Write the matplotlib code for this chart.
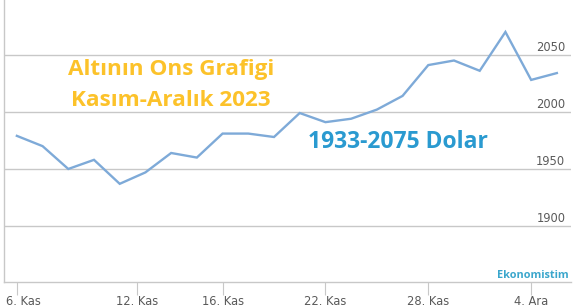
import matplotlib
matplotlib.use("Agg")
import matplotlib.pyplot as plt
from matplotlib.transforms import ScaledTranslation

# Data: trading days 6 Nov - 5 Dec 2023 (ordinal axis)
dates = ["6 Kas", "7 Kas", "8 Kas", "9 Kas", "10 Kas", "13 Kas", "14 Kas", "15 Kas",
         "16 Kas", "17 Kas", "20 Kas", "21 Kas", "22 Kas", "23 Kas", "24 Kas",
         "27 Kas", "28 Kas", "29 Kas", "30 Kas", "1 Ara", "4 Ara", "5 Ara"]
prices = [1979, 1970, 1950, 1958, 1937, 1947, 1964, 1960, 1981, 1981, 1978,
          1999, 1991, 1994, 2002, 2014, 2041, 2045, 2036, 2070, 2028, 2034]
tick_pos = [0, 4.667, 8, 12, 16, 20]
tick_labels = ["6. Kas", "12. Kas", "16. Kas", "22. Kas", "28. Kas", "4. Ara"]
y_grid = [1900, 1950, 2000, 2050]

W, H = 576, 308
fig = plt.figure(figsize=(W / 100, H / 100), dpi=100)
ax = fig.add_axes([4 / W, 1 - 282 / H, (571 - 4) / W, 282 / H])

x = list(range(len(prices)))
ax.plot(x, prices, color="#7EAAD8", lw=1.7, solid_joinstyle="miter", zorder=3)

ax.set_xlim(-0.5, 21.55)
ax.set_ylim(1851, 2098)

grid_c = "#C8C8C8"
for v in y_grid:
    ax.axhline(v, color=grid_c, lw=1.0, zorder=1)
    ax.text(0.99, v + 1, str(v), transform=ax.get_yaxis_transform(), ha="right", va="bottom",
            fontsize=8.3, color="#5A5A5A", family="DejaVu Sans")

for s in ["top", "right"]:
    ax.spines[s].set_visible(False)
ax.spines["left"].set_color(grid_c)
ax.spines["bottom"].set_color(grid_c)
ax.spines["left"].set_linewidth(1.0)
ax.spines["bottom"].set_linewidth(1.0)

ax.set_yticks([])
ax.set_xticks(tick_pos)
ax.set_xticklabels(tick_labels, fontsize=8.3, color="#5A5A5A")
ax.tick_params(axis="x", length=9, width=0.8, color=grid_c, pad=0.5)
first = ax.get_xticklabels()[0]
first.set_transform(first.get_transform() + ScaledTranslation(0.065, 0, fig.dpi_scale_trans))

ax.text(171 / W, 1 - 69 / H, "Altının Ons Grafigi", transform=fig.transFigure,
        ha="center", va="center", fontsize=16.2, fontweight="bold", color="#FCC22A",
        family="Open Sans")
ax.text(171 / W, 1 - 100 / H, "Kasım-Aralık 2023", transform=fig.transFigure,
        ha="center", va="center", fontsize=16.2, fontweight="bold", color="#FCC22A",
        family="Open Sans")
ax.text(398 / W, 1 - 142 / H, "1933-2075 Dolar", transform=fig.transFigure,
        ha="center", va="center", fontsize=16.5, fontweight="bold", color="#2A9AD0",
        family="Open Sans")
ax.text(569 / W, 1 - 275 / H, "Ekonomistim", transform=fig.transFigure,
        ha="right", va="center", fontsize=7.8, fontweight="bold", color="#3AA6CC",
        family="Open Sans")

fig.savefig("out.png", dpi=100, facecolor="white")
